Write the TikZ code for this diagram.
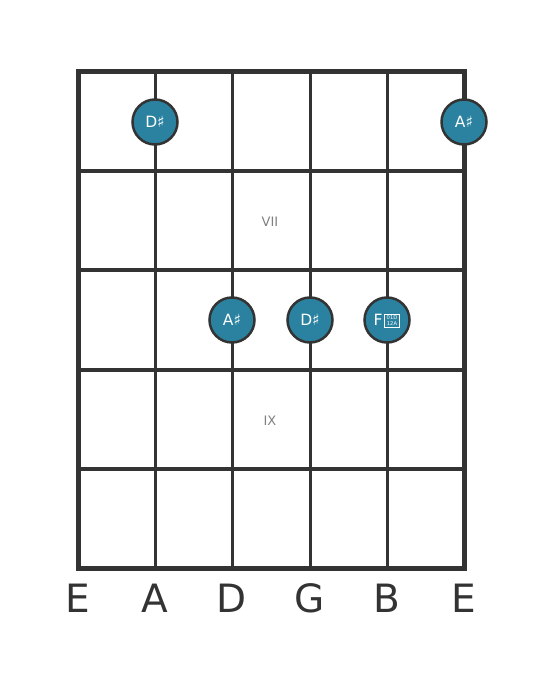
\documentclass[tikz,border=0pt]{standalone}
\usepackage{fontspec}
\setmainfont{DejaVu Sans}
\definecolor{ink}{HTML}{333333}
\definecolor{dotfill}{HTML}{2A82A0}
\definecolor{roman}{HTML}{808080}
\begin{document}
\begin{tikzpicture}[x=1pt,y=-1pt,
  gridline/.style={draw=ink,line width=4pt},
  stringline/.style={draw=ink,line width=3pt},
  notedot/.style={circle,draw=ink,line width=2.5pt,fill=dotfill,minimum size=45pt,inner sep=0pt,text=white,font=\fontsize{15.5}{15.5}\selectfont},
  strname/.style={text=ink,font=\fontsize{39}{39}\selectfont,inner sep=0pt},
  fretnum/.style={text=roman,font=\fontsize{13}{13}\selectfont,inner sep=0pt},
  hexrow/.style={text=white,inner sep=0pt,font=\fontsize{5.2}{5.2}\selectfont}]
\useasboundingbox (0,0) rectangle (559,682);
% strings
\foreach \x [count=\i] in {78,155,232,310,387,464} {
  \coordinate (s\i top) at (\x,72);
  \coordinate (s\i bot) at (\x,568);
  \draw[stringline] (s\i top) -- (s\i bot);
}
% frets
\foreach \y [count=\j] in {72,171,270,370,469,568} {
  \coordinate (f\j l) at (78,\y);
  \coordinate (f\j r) at (464,\y);
  \draw[gridline] (f\j l) -- (f\j r);
}
\draw[draw=ink,line width=5pt,line cap=rect] (78,72) rectangle (464,568);
% fret numbers
\node[fretnum] (vii) at (270,222) {VII};
\node[fretnum] (ix) at (270,421) {IX};
% dots
\node[notedot] (d1) at (155,122) {D♯};
\node[notedot] (d2) at (464,122) {A♯};
\node[notedot] (d3) at (232,320) {A♯};
\node[notedot] (d4) at (310,320) {D♯};
\node[notedot] (d5) at (387,320) {};
\node[text=white,inner sep=0pt,font=\fontsize{15.5}{15.5}\selectfont,anchor=east] (fl) at (382.8,320) {F};
\draw[white,line width=0.6pt] (384.3,314.2) rectangle (399.7,326.8);
\node[hexrow] (hx1) at (392,317.2) {01D};
\node[hexrow] (hx2) at (392,323.9) {12A};
% string names
\foreach \n/\x [count=\k] in {E/78,A/155,D/232,G/310,B/387,E/464} {
  \node[strname] (n\k) at (\x,598) {\n};
}
\end{tikzpicture}
\end{document}
